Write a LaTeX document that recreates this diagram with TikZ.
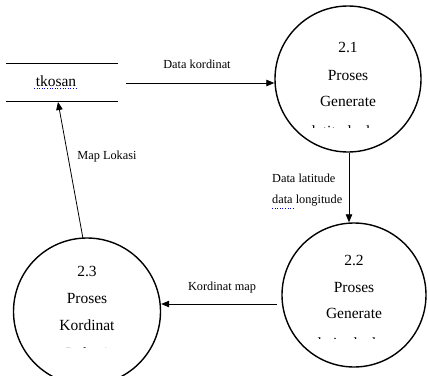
\documentclass[tikz,border=0pt]{standalone}
\usepackage{fontspec}
\setmainfont{Liberation Serif}
\usetikzlibrary{arrows.meta}
\begin{document}
\begin{tikzpicture}[x=1pt,y=-1pt,
  proc/.style={draw,circle,line width=1.4pt,minimum size=146pt,inner sep=0pt},
  flow/.style={-{Triangle[length=8pt,width=6.5pt]},line width=0.8pt},
  lbl/.style={font=\fontsize{12.3}{21}\selectfont,inner sep=0pt},
  ptxt/.style={font=\fontsize{15.5}{18}\selectfont,inner sep=0pt},
  spell/.style={draw=blue!80!black,dotted,line width=0.6pt}]
\useasboundingbox (0,0) rectangle (428,375);
% data store
\node[minimum width=112pt,minimum height=37pt,inner sep=0pt] (store) at (62,82.5) {};
\node[ptxt] (storetxt) at (56,81) {tkosan};
\draw[line width=0.9pt] (store.north west) -- (store.north east);
\draw[line width=0.9pt] (store.south west) -- (store.south east);
\coordinate (u1) at (34,88.5);
\coordinate (u2) at (78,88.5);
\draw[spell] (u1) -- (u2);
% processes
\node[proc] (p1) at (348,79) {};
\node[ptxt] (p1a) at (348,47) {2.1};
\node[ptxt] (p1b) at (348,75) {Proses};
\node[ptxt] (p1c) at (348,101) {Generate};
\begin{scope}
\clip (276,60) rectangle (420,127.5);
\node[ptxt] (p1d) at (348,131.5) {latitude dan};
\end{scope}

\node[proc,minimum size=144pt] (p2) at (354,295) {};
\node[ptxt] (p2a) at (354,260) {2.2};
\node[ptxt] (p2b) at (354,287) {Proses};
\node[ptxt] (p2c) at (354,313) {Generate};
\begin{scope}
\clip (284,300) rectangle (424,338.5);
\node[ptxt] (p2d) at (354,343) {latitude dan};
\end{scope}

\node[proc,minimum size=147pt] (p3) at (87,311.5) {};
\node[ptxt] (p3a) at (87,271) {2.3};
\node[ptxt] (p3b) at (87,298) {Proses};
\node[ptxt] (p3c) at (87,325) {Kordinat};
\begin{scope}
\clip (15,300) rectangle (160,347.5);
\node[ptxt] (p3d) at (87,353.5) {Lokasi};
\end{scope}

% flows
\coordinate (f1s) at (126,83);
\draw[flow] (f1s) -- (p1.west |- f1s);
\node[lbl] (l1) at (197,64) {Data kordinat};

\draw[flow] (p1.south -| 349,0) -- (p2.north -| 349,0);
\node[lbl,align=left,anchor=west] (l2) at (272,190) {Data latitude\\data longitude};
\coordinate (u3) at (272,208);
\coordinate (u4) at (293,208);
\draw[spell] (u3) -- (u4);

\coordinate (f3s) at (277,304);
\draw[flow] (f3s) -- (p3.east |- f3s);
\node[lbl] (l3) at (222,288) {Kordinat map};

\coordinate (f4s) at (83,238.5);
\coordinate (f4e) at (58,102);
\draw[flow] (f4s) -- (f4e);
\node[lbl] (l4) at (107,157) {Map Lokasi};
\end{tikzpicture}
\end{document}
